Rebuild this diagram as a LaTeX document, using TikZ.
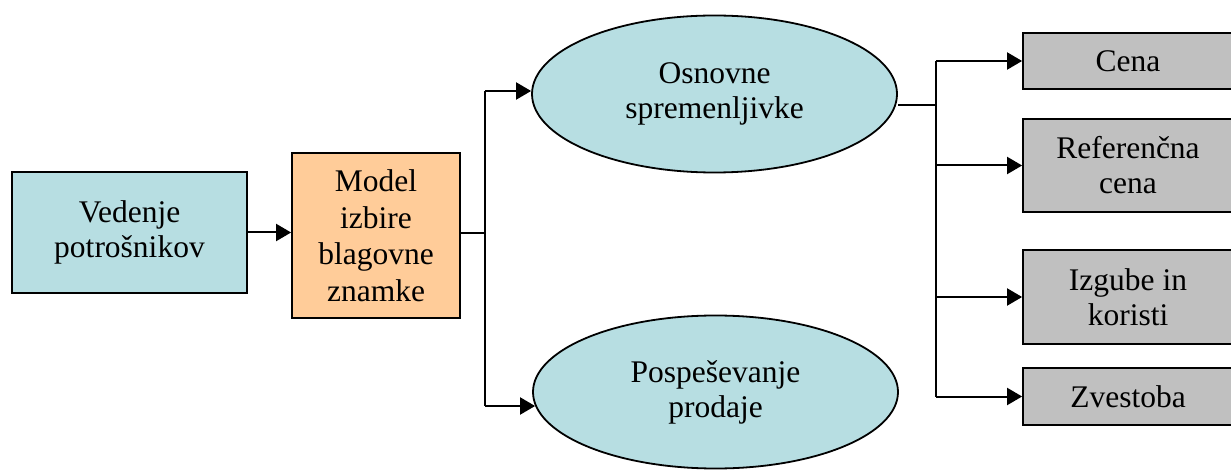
\documentclass[tikz,border=0pt]{standalone}
\usepackage{fontspec}
\setmainfont{Liberation Serif}
\usetikzlibrary{shapes.geometric, arrows.meta, positioning, calc}
\definecolor{aquafill}{HTML}{B7DEE2}
\definecolor{peachfill}{HTML}{FFCC99}
\definecolor{greyfill}{HTML}{C0C0C0}
\tikzset{
    box/.style={
        rectangle,
        draw=black,
        line width=1.8pt,
        inner sep=0pt,
        align=center,
        font=\fontsize{31.5}{35}\selectfont
    },
    startbox/.style={
        box,
        fill=aquafill
    },
    modelbox/.style={
        box,
        fill=peachfill,
        font=\fontsize{31.5}{36.5}\selectfont
    },
    factor/.style={
        ellipse,
        draw=black,
        line width=1.8pt,
        fill=aquafill,
        inner sep=0pt,
        minimum width=365pt,
        minimum height=157pt,
        align=center,
        font=\fontsize{31.5}{35}\selectfont
    },
    outbox/.style={
        box,
        fill=greyfill,
        minimum width=210pt
    },
    arrow/.style={
        -{Triangle[length=15pt,width=17pt]},
        line width=2pt
    },
    link/.style={
        line width=2pt
    }
}
\begin{document}
\begin{tikzpicture}[x=1pt, y=-1pt]

    \useasboundingbox (0,0) rectangle (1231,470);

    % Consumer behaviour and model
    \node[startbox, minimum width=235pt, minimum height=121pt] (ved) at (129.5,232.5) {Vedenje\\potrošnikov};
    \node[modelbox, minimum width=168pt, minimum height=165pt] (model) at (376,235.5) {Model\\izbire\\blagovne\\znamke};

    % Two groups
    \node[factor] (osn) at (714.5,94) {Osnovne\\spremenljivke};
    \node[factor, minimum height=153pt] (posp) at (715.5,392) {Pospeševanje\\prodaje};

    % Basic variables
    \node[outbox, minimum height=56pt] (cena) at (1128,61) {Cena};
    \node[outbox, minimum height=93pt] (ref) at (1128,165.5) {Referenčna\\cena};
    \node[outbox, minimum height=94pt] (izg) at (1128,297) {Izgube in\\koristi};
    \node[outbox, minimum height=57pt] (zve) at (1128,396.5) {Zvestoba};

    % Bus points
    \coordinate (splitL) at (485,233);
    \coordinate (busLtop) at (485,91);
    \coordinate (busLbot) at (485,406);
    \coordinate (splitR) at (936,105);

    % Left side
    \draw[arrow] (ved.east) -- (ved.east -| model.west);
    \draw[link] (model.east |- splitL) -- (splitL);
    \draw[link] (busLtop) -- (busLbot);
    \draw[arrow] (busLtop) -- (busLtop -| osn.west);
    \draw[arrow] (busLbot) -- ($(busLbot -| posp.west)+(3,0)$);

    % Right side
    \draw[link] (osn.east |- splitR) -- (splitR);
    \draw[link] (cena.west -| splitR) -- (zve.west -| splitR);
    \draw[arrow] (cena.west -| splitR) -- (cena.west);
    \draw[arrow] (ref.west -| splitR) -- (ref.west);
    \draw[arrow] (izg.west -| splitR) -- (izg.west);
    \draw[arrow] (zve.west -| splitR) -- (zve.west);

\end{tikzpicture}
\end{document}
